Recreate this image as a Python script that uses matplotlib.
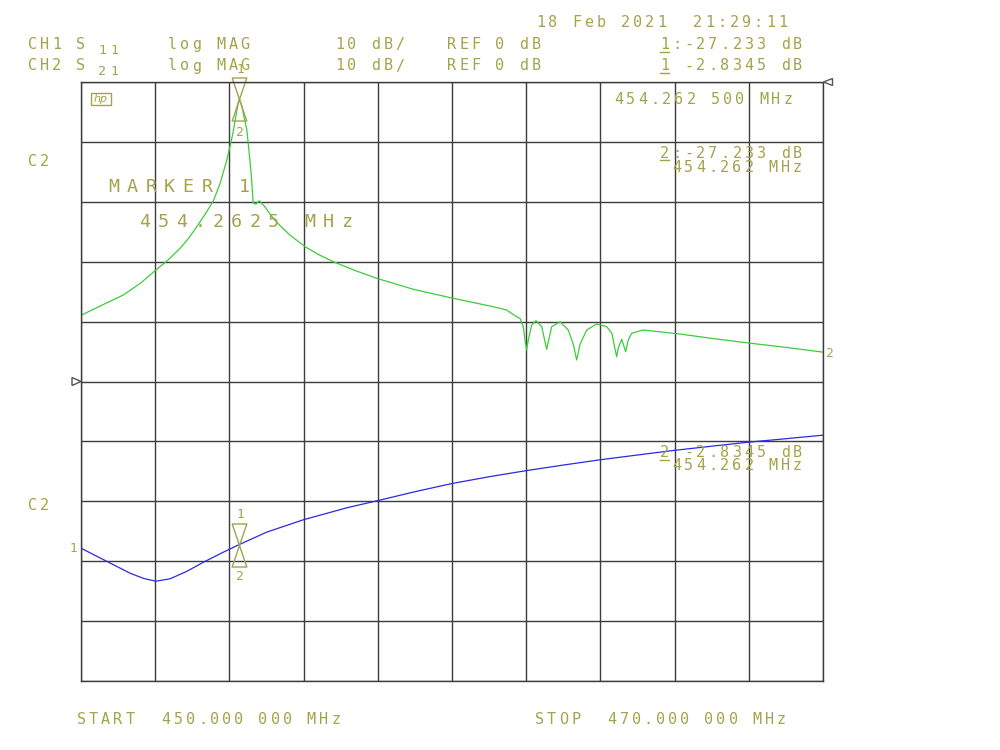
import numpy as np
import matplotlib
matplotlib.use('Agg')
import matplotlib.pyplot as plt
from matplotlib.path import Path
from matplotlib.patches import Polygon, Rectangle
from matplotlib.lines import Line2D

# #/#/# Data #/#/#

# CH2 S21, log MAG, 10 dB/div, ref 0 dB at top line
freq_s21 = [450.0, 450.55, 451.14, 451.6, 452.02, 452.35, 452.67, 452.9, 453.12, 453.39,
            453.57, 453.75, 453.93, 454.04, 454.11, 454.18, 454.23, 454.2625, 454.33, 454.40,
            454.47, 454.56, 454.60, 454.64, 454.71, 454.81, 454.95, 455.18, 455.4, 455.63,
            456.04, 456.4, 456.80, 457.4, 457.97, 458.96, 460.03, 461.11, 461.47, 461.74,
            461.833, 461.922, 461.968, 462.013, 462.057, 462.148, 462.264, 462.418, 462.507,
            462.552, 462.597, 462.687, 462.911, 463.134, 463.27, 463.361, 463.45, 463.631,
            463.90, 464.17, 464.31, 464.39, 464.439, 464.48, 464.574, 464.682, 464.75,
            464.843, 465.156, 465.965, 466.145, 467.0, 468.03, 469.0, 470.0]
s21_db = [-38.95, -37.3, -35.56, -33.6, -31.39, -29.7, -27.76, -26.1, -24.16, -21.65,
          -19.82, -16.91, -13.02, -10.13, -8.01, -5.5, -3.7, -2.83, -3.9, -6.0,
          -8.0, -13.5, -16.4, -20.15, -20.4, -19.82, -20.8, -22.75, -24.2, -25.54,
          -27.5, -28.8, -30.0, -31.5, -32.77, -34.61, -36.11, -37.51, -38.06, -39.18,
          -39.45, -40.85, -43.07, -44.74, -43.07, -40.57, -39.85, -40.85, -43.35,
          -44.62, -43.35, -40.85, -40.02, -41.40, -43.8, -46.41, -43.8, -41.40,
          -40.40, -40.85, -41.95, -44.46, -45.86, -44.46, -42.95, -45.03, -43.07,
          -41.95, -41.40, -41.95, -42.07, -42.8, -43.6, -44.3, -45.1]

# CH1 S11, log MAG, 10 dB/div, ref 0 dB at centre line
freq_s11 = [450.0, 450.65, 451.32, 451.7, 452.02, 452.40, 452.85, 453.30, 453.8, 454.2625,
            455.0, 455.99, 457.16, 458.01, 459.0, 460.0, 461.0, 462.02, 463.0, 463.99,
            465.0, 465.96, 467.0, 467.99, 469.0, 470.0]
s11_db = [-27.83, -29.88, -32.0, -32.9, -33.34, -32.94, -31.7, -30.17, -28.6, -27.233,
          -25.16, -23.09, -21.09, -19.87, -18.4, -17.03, -15.9, -14.86, -13.95, -13.07,
          -12.27, -11.52, -10.8, -10.13, -9.55, -8.96]

marker_freq = 454.2625
marker_s21 = -2.8345
marker_s11 = -27.233

s21_ref_pos = 0     # dB offset on screen (top line)
s11_ref_pos = -50   # centre line

W, H = 1000, 750
OLIVE = '#a3a34c'
GRIDC = '#3c3c3c'
GREEN = '#3ccc3c'
BLUE = '#2a2ae0'

fig = plt.figure(figsize=(W / 100, H / 100), dpi=100)
ax = fig.add_axes([81 / W, 1 - 681 / H, 742 / W, 599 / H])
ax.set_xlim(450, 470)
ax.set_ylim(-100, 0)
ax.set_xticks(np.arange(450, 471, 2))
ax.set_yticks(np.arange(-100, 1, 10))
ax.tick_params(length=0, labelbottom=False, labelleft=False)
ax.grid(True, color=GRIDC, lw=1.0)
for sp in ax.spines.values():
    sp.set_color(GRIDC)
    sp.set_linewidth(1.0)

ax.plot(freq_s21, np.array(s21_db) + s21_ref_pos, color=GREEN, lw=0.9)
ax.plot(freq_s11, np.array(s11_db) + s11_ref_pos, color=BLUE, lw=0.9)

# hourglass marker, apex on the trace
hw = 0.34
hourglass = Path([(-hw, 1), (hw, 1), (-hw, -1), (hw, -1), (-hw, 1)])
ax.plot([marker_freq], [marker_s21 + s21_ref_pos], marker=hourglass, ms=31,
        mfc='none', mec=OLIVE, mew=1.0, ls='none', clip_on=False)
ax.plot([marker_freq], [marker_s11 + s11_ref_pos], marker=hourglass, ms=31,
        mfc='none', mec=OLIVE, mew=1.0, ls='none', clip_on=False)


def hp_text(x, y, s, pitch=12.1, size=10.9, cap=11.0, under=()):
    """Fixed-pitch text, x = left edge of first glyph, y = vertical centre (pixels)."""
    gw = pitch * 0.37
    for i, ch in enumerate(s):
        cx = x + i * pitch + gw
        if ch != ' ':
            fig.text(cx / W, 1 - (y + cap / 2) / H, ch, ha='center', va='baseline',
                     fontsize=size, family='DejaVu Sans Mono', color=OLIVE)
        if i in under:
            yl = 1 - (y + cap / 2 + 2.5) / H
            fig.add_artist(Line2D([(cx - 4.5) / W, (cx + 4.5) / W], [yl, yl],
                                  color=OLIVE, lw=1.0))


# header
hp_text(536, 21.5, '18 Feb 2021  21:29:11')
hp_text(28, 43.5, 'CH1 S')
hp_text(98, 49, '11', size=9.5, cap=9.5)
hp_text(168, 43.5, 'log MAG')
hp_text(335, 43.5, '10 dB/')
hp_text(447, 43.5, 'REF 0 dB')
hp_text(660, 43.5, '1:-27.233 dB', under=(0,))
hp_text(28, 65, 'CH2 S')
hp_text(98, 70, '21', size=9.5, cap=9.5)
hp_text(168, 65, 'log MAG')
hp_text(335, 65, '10 dB/')
hp_text(447, 65, 'REF 0 dB')
hp_text(660, 65, '1 -2.8345 dB', under=(0,))

# marker readouts
hp_text(614, 98.5, '454.262 500 MHz')
hp_text(660, 152.3, '2:-27.233 dB', under=(0,))
hp_text(672, 166.7, '454.262 MHz')
hp_text(660, 451.7, '2 -2.8345 dB', under=(0,))
hp_text(672, 465, '454.262 MHz')
hp_text(107, 185, 'MARKER 1', pitch=18.6, size=13.2, cap=13.3)
hp_text(138, 220, '454.2625 MHz', pitch=18.35, size=13.2, cap=13.3)

hp_text(28, 160, 'C2')
hp_text(28, 505, 'C2')

# footer
hp_text(77, 718, 'START  450.000 000 MHz')
hp_text(535, 718, 'STOP  470.000 000 MHz')

# marker numbers and trace labels
for (xx, yy, t) in [(240, 68.6, '1'), (240, 131, '2'), (240, 514, '1'), (240, 576, '2'),
                    (73, 548, '1'), (830, 352, '2')]:
    fig.text(xx / W, 1 - (yy + 4.5) / H, t, ha='center', va='baseline',
             fontsize=9.2, family='DejaVu Sans Mono', color=OLIVE)

# reference position arrows
tri_l = [(72, 377.5), (81, 381.5), (72, 385.5)]
tri_r = [(832.5, 78.5), (823.5, 82), (832.5, 85.5)]
for tri in (tri_l, tri_r):
    fig.add_artist(Polygon([(px / W, 1 - py / H) for px, py in tri], closed=True,
                           fill=False, ec='#555555', lw=1.0, transform=fig.transFigure))

# hp logo
fig.add_artist(Rectangle((91 / W, 1 - 104.5 / H), 19.5 / W, 11.5 / H, fill=False,
                         ec=OLIVE, lw=1.0, transform=fig.transFigure))
fig.text(100.8 / W, 1 - 102.5 / H, 'hp', ha='center', va='baseline', fontsize=8,
         style='italic', family='DejaVu Sans', color=OLIVE)

fig.savefig('out.png', dpi=100, facecolor='white')
